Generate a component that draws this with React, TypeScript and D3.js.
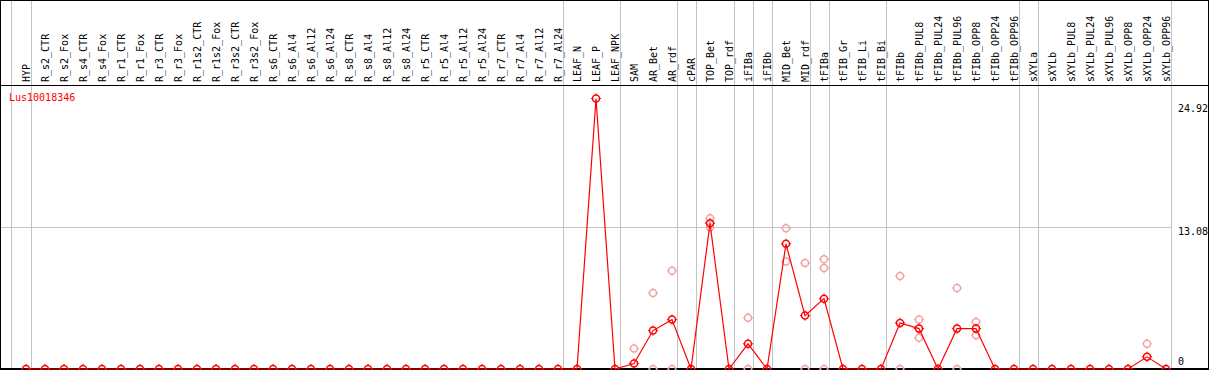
import React from "react";
import * as d3 from "d3";

const categories: string[] = [
  "HYP",
  "R_s2_CTR", "R_s2_Fox", "R_s4_CTR", "R_s4_Fox", "R_r1_CTR", "R_r1_Fox", "R_r3_CTR", "R_r3_Fox",
  "R_r1s2_CTR", "R_r1s2_Fox", "R_r3s2_CTR", "R_r3s2_Fox",
  "R_s6_CTR", "R_s6_Al4", "R_s6_Al12", "R_s6_Al24",
  "R_s8_CTR", "R_s8_Al4", "R_s8_Al12", "R_s8_Al24",
  "R_r5_CTR", "R_r5_Al4", "R_r5_Al12", "R_r5_Al24",
  "R_r7_CTR", "R_r7_Al4", "R_r7_Al12", "R_r7_Al24",
  "LEAF_N", "LEAF_P", "LEAF_NPK",
  "SAM", "AR_Bet", "AR_rdf",
  "cPAR",
  "TOP_Bet", "TOP_rdf",
  "iFIBa",
  "iFIBb",
  "MID_Bet", "MID_rdf",
  "tFIBa",
  "tFIB_Gr", "tFIB_Li", "tFIB_Bi",
  "tFIBb", "tFIBb_PUL8", "tFIBb_PUL24", "tFIBb_PUL96", "tFIBb_OPP8", "tFIBb_OPP24", "tFIBb_OPP96",
  "sXYLa",
  "sXYLb", "sXYLb_PUL8", "sXYLb_PUL24", "sXYLb_PUL96", "sXYLb_OPP8", "sXYLb_OPP24", "sXYLb_OPP96",
];

// sizes of the column groups separated by grey vertical lines
const groupSizes: number[] = [1, 28, 3, 3, 1, 2, 1, 1, 2, 1, 3, 7, 1, 7];

// mean expression per category
const means: number[] = [
  0,
  0, 0, 0, 0, 0, 0, 0, 0,
  0, 0, 0, 0,
  0, 0, 0, 0,
  0, 0, 0, 0,
  0, 0, 0, 0,
  0, 0, 0, 0,
  0, 24.92, 0,
  0.51, 3.54, 4.55,
  0,
  13.43, 0,
  2.32,
  0,
  11.53, 4.92,
  6.48,
  0, 0, 0,
  4.24, 3.72, 0, 3.72, 3.72, 0, 0,
  0,
  0, 0, 0, 0, 0, 1.12, 0,
];

// individual replicate values (faint points), keyed by category
const replicateCategories: string[] = [
  "SAM",
  "AR_Bet", "AR_Bet",
  "AR_rdf", "AR_rdf",
  "TOP_Bet", "TOP_Bet",
  "iFIBa", "iFIBa",
  "MID_Bet", "MID_Bet",
  "MID_rdf", "MID_rdf",
  "tFIBa", "tFIBa", "tFIBa",
  "tFIBb", "tFIBb",
  "tFIBb_PUL8", "tFIBb_PUL8",
  "tFIBb_PUL96", "tFIBb_PUL96",
  "tFIBb_OPP8", "tFIBb_OPP8",
  "sXYLb_OPP24",
];
const replicateValues: number[] = [
  1.88,
  7.0, 0,
  9.05, 0,
  13.89, 13.03,
  4.73, 0,
  12.97, 9.9,
  9.76, 0,
  10.12, 9.3, 0,
  8.56, 0,
  4.55, 2.87,
  7.46, 0,
  4.34, 3.1,
  2.32,
];

const yTicks: number[] = [0, 13.08, 24.92];
const yGridTicks: number[] = [13.08];
const geneLabel = "Lus10018346";

const W = 1209;
const H = 370;
const FONT = "'DejaVu Sans Mono', monospace";
const RED = "#ff0000";
const PINK = "#f2a2a2";
const GRID = "#c4c4c4";

function Marker({ cx, cy, color }: { cx: number; cy: number; color: string }) {
  const r = 3.5;
  return (
    <g transform={`translate(${cx},${cy})`} stroke={color} fill="none">
      <circle r={r} strokeWidth={1.5} />
      <line x1={0} y1={-r} x2={0} y2={-r - 1.6} strokeWidth={1} />
      <line x1={0} y1={r} x2={0} y2={r + 1.6} strokeWidth={1} />
      <line x1={-r} y1={0} x2={-r - 1.6} y2={0} strokeWidth={1} />
      <line x1={r} y1={0} x2={r + 1.6} y2={0} strokeWidth={1} />
    </g>
  );
}

export default function App() {
  const x = d3.scalePoint<string>().domain(categories).range([26, 1166]);
  const y = d3.scaleLinear().domain([0, 24.92]).range([369, 98.5]);
  const step = x.step();

  const headerY = 85.5;
  const plotRight = x(categories[categories.length - 1])! + 4.6;

  // group boundary lines
  const boundaries: number[] = [x(categories[0])! - step + 3.5];
  let idx = -1;
  groupSizes.forEach((s) => {
    idx += s;
    boundaries.push(x(categories[idx])! + 4.6);
  });

  const line = d3
    .line<number>()
    .x((_, i) => x(categories[i])!)
    .y((d) => y(d));

  const tickLabelY = (v: number) => {
    const yy = y(v) + 8;
    return Math.max(112, Math.min(365, yy));
  };

  return (
    <svg
      width={W}
      height={H}
      style={{ position: "absolute", left: 0, top: 0, display: "block", background: "#fff" }}
    >
      <rect x={0} y={0} width={W} height={H} fill="#fff" />
      {/* vertical group lines */}
      {boundaries.map((bx, i) => (
        <line
          key={"b" + i}
          x1={Math.round(bx) + 0.5}
          x2={Math.round(bx) + 0.5}
          y1={0}
          y2={369}
          stroke={GRID}
          strokeWidth={1}
          shapeRendering="crispEdges"
        />
      ))}
      {/* horizontal grid */}
      {yGridTicks.map((v) => (
        <line
          key={"h" + v}
          x1={1}
          x2={Math.round(plotRight) + 0.5}
          y1={Math.round(y(v)) + 0.5}
          y2={Math.round(y(v)) + 0.5}
          stroke={GRID}
          strokeWidth={1}
          shapeRendering="crispEdges"
        />
      ))}
      {/* frame */}
      <rect
        x={0.5}
        y={0.5}
        width={1208}
        height={368.5}
        fill="none"
        stroke="#000"
        strokeWidth={1.5}
        shapeRendering="crispEdges"
      />
      <line x1={0} x2={W} y1={headerY} y2={headerY} stroke="#000" strokeWidth={1.5} shapeRendering="crispEdges" />

      {/* category labels */}
      {categories.map((c) => (
        <text
          key={c}
          transform={`translate(${x(c)! + 3.5},82) rotate(-90)`}
          fontFamily={FONT}
          fontSize={10}
          fill="#000"
        >
          {c}
        </text>
      ))}

      {/* y labels */}
      {yTicks.map((v) => (
        <text key={"t" + v} x={1178} y={tickLabelY(v)} fontFamily={FONT} fontSize={10} fill="#000">
          {v === 0 ? "0" : v.toFixed(2)}
        </text>
      ))}

      <text x={9} y={101} fontFamily={FONT} fontSize={10} fill={RED}>
        {geneLabel}
      </text>

      {/* replicates */}
      {replicateValues.map((v, i) => (
        <Marker key={"r" + i} cx={x(replicateCategories[i])!} cy={y(v)} color={PINK} />
      ))}

      {/* mean line */}
      <path d={line(means) || ""} fill="none" stroke={RED} strokeWidth={1.2} />

      {/* mean markers */}
      {means.map((v, i) => (
        <Marker key={"m" + i} cx={x(categories[i])!} cy={y(v)} color={RED} />
      ))}
    </svg>
  );
}
